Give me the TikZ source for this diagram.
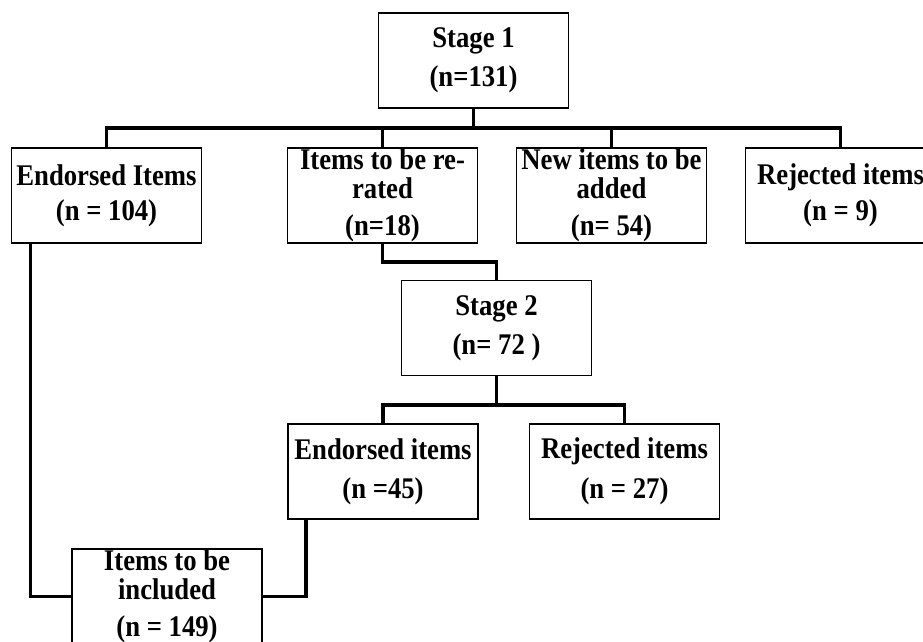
\documentclass[tikz,border=0pt]{standalone}
\usepackage{fontspec}
\setmainfont[FakeStretch=0.89]{Liberation Serif}
\begin{document}
\begin{tikzpicture}[x=1pt,y=-1pt,
  box/.style={draw,line width=1.8pt,minimum width=190pt,minimum height=95pt,inner sep=0pt,align=center,
    font=\bfseries\fontsize{30}{27}\selectfont},
  conn/.style={line width=3.4pt}]
\clip (0,0) rectangle (923,642);
\fill[white] (0,0) rectangle (923,642);
\node[box] (s1) at (473.5,60.5) {Stage 1\\[11pt](n=131)};
\node[box] (e1) at (106.5,195.5) {Endorsed Items\\[8pt](n = 104)};
\node[box] (rr) at (382.5,195.5) {Items to be re-\\[2pt]rated\\[10pt](n=18)};
\node[box] (ni) at (611.5,195.5) {New items to be\\[2pt]added\\[10pt](n= 54)};
\node[box] (rj) at (840.5,195.5) {Rejected items\\[8pt](n = 9)};
\node[box] (s2) at (496.5,328) {Stage 2\\[11pt](n= 72 )};
\node[box] (e2) at (383,471.5) {Endorsed items\\[12pt](n =45)};
\node[box] (r2) at (624.5,471.5) {Rejected items\\[12pt](n = 27)};
\node[box] (inc) at (167,596.5) {Items to be\\[2pt]included\\[10pt](n = 149)};
\coordinate (b1) at (473.5,128);
\coordinate (b2) at (496.5,405);
\draw[conn] (s1.south) -- (b1);
\draw[conn] (e1.north) |- (b1) -| (rj.north);
\draw[conn] (b1) -| (rr.north);
\draw[conn] (b1) -| (ni.north);
\draw[conn] (rr.south) -- ++(0,18) -| (s2.north);
\draw[conn] (s2.south) -- (b2);
\draw[conn] (e2.north) |- (b2) -| (r2.north);
\draw[conn] ([xshift=20pt]e1.south west) |- (inc.west);
\draw[conn] ([xshift=19pt]e2.south west) |- (inc.east);
\end{tikzpicture}
\end{document}
